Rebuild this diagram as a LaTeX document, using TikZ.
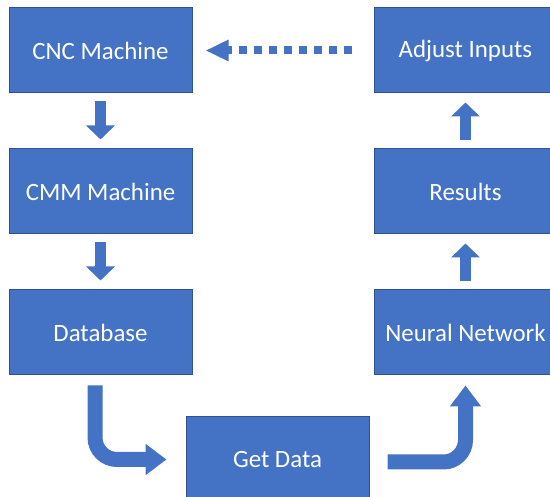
\documentclass[tikz,border=0pt]{standalone}
\usepackage{fontspec}
\setmainfont{Carlito}
\usetikzlibrary{positioning}
\usetikzlibrary{arrows.meta}
\definecolor{boxblue}{HTML}{4472C4}
\definecolor{edgeblue}{HTML}{2F528F}

\tikzset{
 stage/.style={draw=edgeblue, fill=boxblue, line width=1pt, text=white,
   minimum width=183pt, minimum height=85pt, inner sep=0pt,
   font=\fontsize{24.9}{30}\selectfont},
 blockarrow/.style={boxblue, line width=11pt, -{Triangle[width=28pt,length=14pt]}},
 bentarrow/.style={boxblue, line width=15pt, rounded corners=22pt, -{Triangle[width=30pt,length=21pt]}},
 feedback/.style={boxblue, line width=8pt, dash pattern=on 8pt off 7pt, -{Triangle[width=20pt,length=23pt]}}
}

\begin{document}
\begin{tikzpicture}[x=1pt, y=-1pt]
\useasboundingbox (0,0) rectangle (550,497);
\clip (0,0) rectangle (550,497);
% left column
\node[stage] (cnc) at (100.5,50.5) {CNC Machine};
\node[stage, below=55pt of cnc] (cmm) {CMM Machine};
\node[stage, below=55pt of cmm] (db) {Database};
% right column
\node[stage, right=181pt of cnc] (adj) {Adjust Inputs};
\node[stage, below=55pt of adj] (res) {Results};
\node[stage, below=55pt of res] (nn) {Neural Network};
% bottom
\node[stage, below right=41pt and -7pt of db] (get) {Get Data};

\draw[blockarrow, shorten <=8pt, shorten >=9pt] (cnc) -- (cmm);
\draw[blockarrow, shorten <=8pt, shorten >=9pt] (cmm) -- (db);
\draw[bentarrow, shorten <=10pt, shorten >=19pt] ([xshift=-5.5pt]db.south) |- (get.west);
\draw[bentarrow, shorten <=18pt, shorten >=10pt] ([yshift=-2.5pt]get.east) -| (nn.south);
\draw[blockarrow, shorten <=8pt, shorten >=9pt] (nn) -- (res);
\draw[blockarrow, shorten <=8pt, shorten >=9pt] (res) -- (adj);
\draw[feedback, shorten <=22pt, shorten >=13pt] (adj) -- (cnc);
\end{tikzpicture}
\end{document}
